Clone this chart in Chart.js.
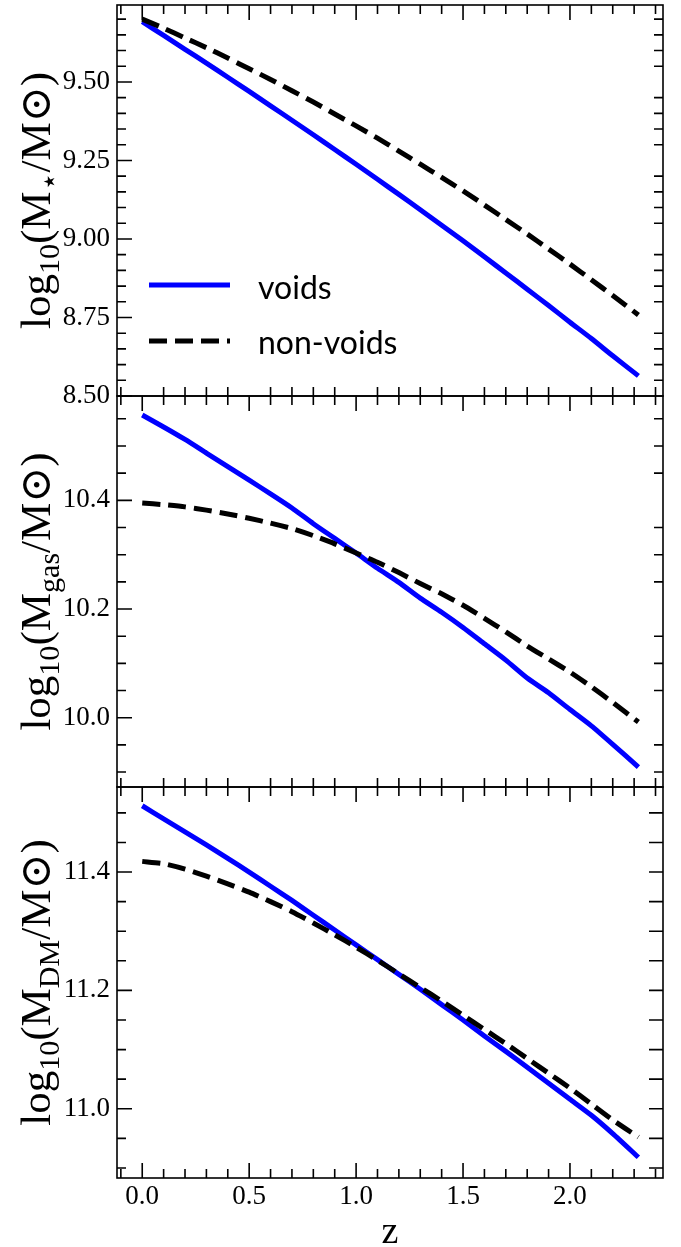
<!DOCTYPE html>
<html>
<head>
<meta charset="utf-8">
<script src="https://cdn.jsdelivr.net/npm/chart.js@4.4.0/dist/chart.umd.min.js"></script>
<style>
  html, body { margin: 0; padding: 0; background: #fff; }
  #wrap { position: relative; width: 681px; height: 1247px; }
  #wrap canvas { position: absolute; left: 0; top: 0; }
</style>
</head>
<body>
<div id="wrap">
  <canvas id="panel-star" width="681" height="1247"></canvas>
  <canvas id="panel-gas" width="681" height="1247"></canvas>
  <canvas id="panel-dm" width="681" height="1247"></canvas>
</div>
<script>
// redshift of each snapshot
const redshift = [0, 0.1, 0.2, 0.3, 0.4, 0.5, 0.6, 0.7, 0.8, 0.9, 1.0, 1.1,
  1.2, 1.3, 1.4, 1.5, 1.6, 1.7, 1.8, 1.9, 2.0, 2.1, 2.2, 2.32];

// log10 stellar mass
const starVoids = [9.692, 9.648, 9.604, 9.560, 9.515, 9.470, 9.424, 9.378, 9.332, 9.285, 9.238, 9.190,
  9.142, 9.093, 9.044, 8.994, 8.943, 8.892, 8.840, 8.788, 8.735, 8.683, 8.628, 8.564];
const starNonVoids = [9.700, 9.671, 9.640, 9.609, 9.576, 9.542, 9.508, 9.472, 9.436, 9.398, 9.360, 9.321,
  9.280, 9.238, 9.196, 9.153, 9.108, 9.062, 9.016, 8.968, 8.920, 8.870, 8.820, 8.758];

// log10 gas mass
const gasVoids = [10.557, 10.535, 10.512, 10.487, 10.462, 10.437, 10.412, 10.386, 10.357, 10.330, 10.303, 10.275,
  10.249, 10.220, 10.194, 10.166, 10.136, 10.106, 10.073, 10.046, 10.015, 9.985, 9.951, 9.909];
const gasNonVoids = [10.395, 10.392, 10.388, 10.382, 10.375, 10.367, 10.358, 10.348, 10.335, 10.320, 10.303, 10.286,
  10.267, 10.247, 10.228, 10.207, 10.183, 10.158, 10.132, 10.108, 10.084, 10.057, 10.028, 9.992];

// log10 dark matter mass
const dmVoids = [11.512, 11.490, 11.468, 11.446, 11.423, 11.400, 11.376, 11.352, 11.327, 11.302, 11.277, 11.252,
  11.227, 11.202, 11.176, 11.150, 11.123, 11.097, 11.070, 11.043, 11.016, 10.989, 10.958, 10.918];
const dmNonVoids = [11.418, 11.414, 11.405, 11.393, 11.380, 11.366, 11.350, 11.333, 11.314, 11.294, 11.273, 11.251,
  11.228, 11.205, 11.182, 11.158, 11.134, 11.110, 11.085, 11.060, 11.035, 11.008, 10.981, 10.952];

// axes
const xRange = [-0.118, 2.435];
const xMajor = [0, 0.5, 1.0, 1.5, 2.0];
const starRange = [8.5, 9.745];
const starMajor = [8.50, 8.75, 9.00, 9.25, 9.50];
const gasRange = [9.8725, 10.592];
const gasMajor = [10.0, 10.2, 10.4];
const dmRange = [10.883, 11.5437];
const dmMajor = [11.0, 11.2, 11.4];
const seriesNames = ['voids', 'non-voids'];

const BLUE = '#0000ff';
const BLACK = '#000000';
const SERIF = "'Liberation Serif', 'DejaVu Serif', serif";

function stepTicks(range, step) {
  const out = [];
  for (let i = Math.ceil(range[0] / step - 1e-9); i * step <= range[1] + 1e-9; i++) {
    out.push(+(i * step).toFixed(4));
  }
  return out;
}
const isMajor = (majors, v) => majors.some((m) => Math.abs(m - v) < 1e-6);
const pairs = (ys) => ys.map((y, i) => ({ x: redshift[i], y }));

// frame, inward ticks, y title and legend
const framePlugin = {
  id: 'panelFrame',
  afterDraw(chart, args, opts) {
    const { ctx, chartArea: a, scales: { x, y } } = chart;
    ctx.save();
    ctx.strokeStyle = '#000';
    ctx.lineWidth = 1.6;
    ctx.beginPath();
    y.ticks.forEach((t) => {
      const py = y.getPixelForValue(t.value);
      const major = isMajor(opts.yMajor, t.value);
      const len = major ? 15 : 9;
      ctx.moveTo(a.left, py); ctx.lineTo(a.left + len, py);
      if (!major || opts.rightMajors) {
        ctx.moveTo(a.right, py); ctx.lineTo(a.right - opts.rightLen, py);
      }
    });
    x.ticks.forEach((t) => {
      const px = x.getPixelForValue(t.value);
      const major = isMajor(xMajor, t.value);
      const len = major ? 15 : 9;
      ctx.moveTo(px, a.top); ctx.lineTo(px, a.top + len);
      if (!major || opts.bottomMajors) {
        ctx.moveTo(px, a.bottom); ctx.lineTo(px, a.bottom - len);
      }
    });
    ctx.stroke();
    ctx.strokeRect(a.left, a.top, a.right - a.left, a.bottom - a.top);

    // y title: log10(M_sub / M_sun)
    const F = 43;
    const segs = [
      ['log', F, 0], ['10', 0.7 * F, 0.22 * F], ['(M', F, 0],
      [opts.sub, 0.7 * F, 0.22 * F], ['/M\u2299)', F, 0],
    ];
    ctx.fillStyle = '#000';
    ctx.textBaseline = 'alphabetic';
    ctx.textAlign = 'left';
    let total = 0;
    segs.forEach((s) => { ctx.font = `${s[1]}px ${SERIF}`; s.push(ctx.measureText(s[0]).width); total += s[3]; });
    ctx.translate(50, (a.top + a.bottom) / 2);
    ctx.rotate(-Math.PI / 2);
    let cx = -total / 2;
    segs.forEach((s) => {
      ctx.font = `${s[1]}px ${SERIF}`;
      ctx.fillText(s[0], cx, s[2]);
      cx += s[3];
    });
    ctx.setTransform(1, 0, 0, 1, 0, 0);

    if (opts.legend) {
      const ds = chart.data.datasets;
      const rows = [
        { y: 285, text: 'voids', set: ds.find((d) => d.label === seriesNames[0]) },
        { y: 341, text: 'non-voids', set: ds.find((d) => d.label === seriesNames[1]) },
      ];
      rows.forEach((r) => {
        ctx.strokeStyle = r.set.borderColor;
        ctx.lineWidth = r.set.borderWidth;
        ctx.setLineDash(r.set.borderDash || []);
        ctx.beginPath();
        ctx.moveTo(149, r.y); ctx.lineTo(230, r.y);
        ctx.stroke();
      });
      ctx.setLineDash([]);
      ctx.fillStyle = '#000';
      ctx.font = "32px Lato, 'Open Sans', sans-serif";
      ctx.fillText(rows[0].text, 258, 299);
      ctx.fillText(rows[1].text, 258, 354);
    }
    ctx.restore();
  },
};

function makePanel(id, voids, nonVoids, range, majors, decimals, sub, pad, isBottom, extra) {
  const yTicks = stepTicks(range, 0.05);
  const xTicks = stepTicks(xRange, 0.1);
  // eslint-disable-next-line no-undef
  return new Chart(document.getElementById(id), {
    type: 'line',
    data: {
      datasets: [
        {
          label: seriesNames[1],
          data: pairs(nonVoids),
          borderColor: BLACK,
          borderWidth: 5,
          borderDash: [18, 8],
          borderCapStyle: 'butt',
          tension: 0.2,
        },
        {
          label: seriesNames[0],
          data: pairs(voids),
          borderColor: BLUE,
          borderWidth: 5,
          tension: 0.2,
        },
      ],
    },
    options: {
      responsive: false,
      animation: false,
      devicePixelRatio: 1,
      layout: { padding: { top: pad[0], bottom: pad[1], left: 0, right: 18 } },
      elements: { point: { radius: 0 } },
      plugins: {
        legend: { display: false },
        tooltip: { enabled: false },
        panelFrame: { yMajor: majors, sub, ...extra },
      },
      scales: {
        x: {
          type: 'linear',
          min: xRange[0],
          max: xRange[1],
          display: isBottom,
          grid: { display: false, drawTicks: false },
          border: { display: false },
          afterBuildTicks: (scale) => { scale.ticks = xTicks.map((v) => ({ value: v })); },
          afterFit: (scale) => {
            scale.height = isBottom ? 69 : 0;
            scale.paddingLeft = 0;
            scale.paddingRight = 0;
          },
          ticks: {
            autoSkip: false,
            maxRotation: 0,
            padding: 3,
            color: '#000',
            font: { family: SERIF, size: 27 },
            callback: (v) => (isMajor(xMajor, v) ? v.toFixed(1) : ''),
          },
          title: {
            display: true,
            text: 'z',
            color: '#000',
            padding: 0,
            font: { family: SERIF, size: 38, lineHeight: 0.75 },
          },
        },
        y: {
          type: 'linear',
          min: range[0],
          max: range[1],
          grid: { display: false, drawTicks: false },
          border: { display: false },
          afterBuildTicks: (scale) => { scale.ticks = yTicks.map((v) => ({ value: v })); },
          afterFit: (scale) => {
            scale.width = 117;
            scale.paddingTop = 0;
            scale.paddingBottom = 0;
          },
          ticks: {
            autoSkip: false,
            padding: 7,
            color: '#000',
            font: { family: SERIF, size: 27 },
            callback: (v) => (isMajor(majors, v) ? v.toFixed(decimals) : ''),
          },
        },
      },
    },
    plugins: [framePlugin],
  });
}

makePanel('panel-star', starVoids, starNonVoids, starRange, starMajor, 2, '\u22c6',
  [5, 851], false, { legend: true, rightMajors: false, rightLen: 9 });
makePanel('panel-gas', gasVoids, gasNonVoids, gasRange, gasMajor, 1, 'gas',
  [396, 460], false, { rightMajors: false, rightLen: 9 });
makePanel('panel-dm', dmVoids, dmNonVoids, dmRange, dmMajor, 1, 'DM',
  [787, 0], true, { bottomMajors: true, rightMajors: true, rightLen: 14 });
</script>
</body>
</html>
